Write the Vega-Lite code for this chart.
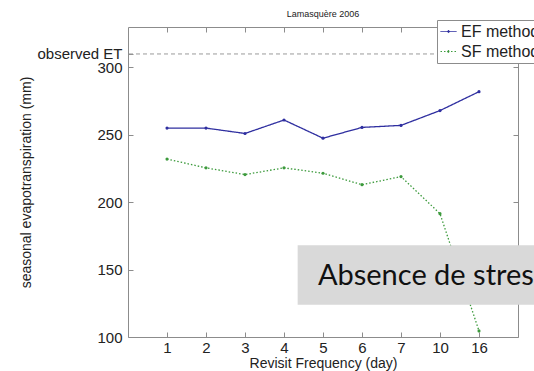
{
  "$schema": "https://vega.github.io/schema/vega-lite/v6.json",
  "width": 390,
  "height": 310,
  "autosize": {"type": "none"},
  "padding": {"left": 128, "top": 27, "right": 16, "bottom": 34},
  "background": "white",
  "title": {
    "text": "Lamasquère 2006",
    "fontSize": 9,
    "fontWeight": "normal",
    "font": "Liberation Sans",
    "color": "#222",
    "anchor": "middle",
    "offset": 9,
    "dy": 8
  },
  "config": {
    "font": "Liberation Sans",
    "view": {"stroke": "#8c8c8c", "strokeWidth": 1},
    "axis": {
      "grid": false,
      "domain": false,
      "tickColor": "#8c8c8c",
      "tickSize": -5,
      "labelFont": "Liberation Sans",
      "labelFontSize": 15,
      "labelColor": "#222",
      "labelOverlap": false,
      "titleFont": "Liberation Sans",
      "titleFontSize": 14,
      "titleFontWeight": "normal",
      "titleColor": "#222"
    },
    "legend": {
      "strokeColor": "#8c8c8c",
      "fillColor": "white",
      "padding": 3,
      "rowPadding": 3,
      "labelFont": "Liberation Sans",
      "labelFontSize": 16,
      "labelColor": "#222",
      "symbolSize": 256,
      "symbolStrokeWidth": 1,
      "symbolType": "M-1,0H1M-0.12,0A0.12,0.12 0 1,0 0.12,0A0.12,0.12 0 1,0 -0.12,0"
    }
  },
  "datasets": {
    "et": [
      {"method": "EF method", "freq": 1, "et": 255},
      {"method": "EF method", "freq": 2, "et": 255},
      {"method": "EF method", "freq": 3, "et": 251},
      {"method": "EF method", "freq": 4, "et": 261},
      {"method": "EF method", "freq": 5, "et": 247.5},
      {"method": "EF method", "freq": 6, "et": 255.5},
      {"method": "EF method", "freq": 7, "et": 257},
      {"method": "EF method", "freq": 10, "et": 268},
      {"method": "EF method", "freq": 16, "et": 282},
      {"method": "SF method", "freq": 1, "et": 232},
      {"method": "SF method", "freq": 2, "et": 225.5},
      {"method": "SF method", "freq": 3, "et": 220.5},
      {"method": "SF method", "freq": 4, "et": 225.5},
      {"method": "SF method", "freq": 5, "et": 221.5},
      {"method": "SF method", "freq": 6, "et": 213},
      {"method": "SF method", "freq": 7, "et": 219},
      {"method": "SF method", "freq": 10, "et": 191.5},
      {"method": "SF method", "freq": 16, "et": 104.5}
    ],
    "observed": [{"label": "observed ET", "et": 310}],
    "note": [{"text": "Absence de stress"}]
  },
  "layer": [
    {
      "data": {"name": "et"},
      "mark": {"type": "line", "strokeWidth": 1.3},
      "encoding": {
        "x": {
          "field": "freq",
          "type": "ordinal",
          "scale": {"type": "point", "padding": 1, "domain": [1, 2, 3, 4, 5, 6, 7, 10, 16]},
          "axis": {"orient": "bottom", "title": "Revisit Frequency (day)", "labelAngle": 0, "labelPadding": 8, "titlePadding": 1}
        },
        "y": {
          "field": "et",
          "type": "quantitative",
          "scale": {"domain": [100, 330], "nice": false, "zero": false},
          "axis": {
            "orient": "left",
            "title": "seasonal evapotranspiration (mm)",
            "values": [100, 150, 200, 250, 300, 310],
            "labelExpr": "datum.value == 310 ? 'observed ET' : datum.label",
            "labelPadding": 11,
            "titlePadding": 3
          }
        },
        "color": {
          "field": "method",
          "type": "nominal",
          "scale": {"domain": ["EF method", "SF method"], "range": ["#2f2fa0", "#3c9a3c"]},
          "legend": {"title": null, "orient": "none", "legendX": 309, "legendY": -7}
        },
        "strokeDash": {
          "field": "method",
          "type": "nominal",
          "scale": {"domain": ["EF method", "SF method"], "range": [[1, 0], [1.5, 2]]},
          "legend": {"title": null, "orient": "none", "legendX": 309, "legendY": -7}
        }
      }
    },
    {
      "data": {"name": "et"},
      "mark": {"type": "point", "filled": true, "size": 10, "opacity": 1},
      "encoding": {
        "x": {
          "field": "freq",
          "type": "ordinal",
          "scale": {"type": "point", "padding": 1, "domain": [1, 2, 3, 4, 5, 6, 7, 10, 16]},
          "axis": {"orient": "top", "title": null, "labels": false}
        },
        "y": {
          "field": "et",
          "type": "quantitative",
          "axis": {"orient": "right", "title": null, "labels": false, "values": [100, 150, 200, 250, 300]}
        },
        "color": {"field": "method", "type": "nominal"}
      }
    },
    {
      "data": {"name": "observed"},
      "mark": {"type": "rule", "color": "#9a9a9a", "strokeWidth": 1, "strokeDash": [4, 3]},
      "encoding": {"y": {"field": "et", "type": "quantitative", "axis": null}}
    },
    {
      "data": {"name": "note"},
      "mark": {"type": "rect", "color": "#d9d9d9"},
      "encoding": {
        "x": {"datum": 4.35, "type": "quantitative", "scale": {"domain": [0, 10], "nice": false, "zero": false}, "axis": null},
        "x2": {"datum": 10.6},
        "y": {"datum": 168, "type": "quantitative", "axis": null},
        "y2": {"datum": 124}
      }
    },
    {
      "data": {"name": "note"},
      "mark": {"type": "text", "font": "Lato", "fontSize": 29, "color": "#111", "align": "left", "baseline": "alphabetic"},
      "encoding": {
        "text": {"field": "text"},
        "x": {"datum": 4.87, "type": "quantitative", "scale": {"domain": [0, 10], "nice": false, "zero": false}, "axis": null},
        "y": {"datum": 138.7, "type": "quantitative", "axis": null}
      }
    }
  ],
  "resolve": {
    "scale": {"x": "independent"},
    "axis": {"x": "independent", "y": "independent"}
  }
}
